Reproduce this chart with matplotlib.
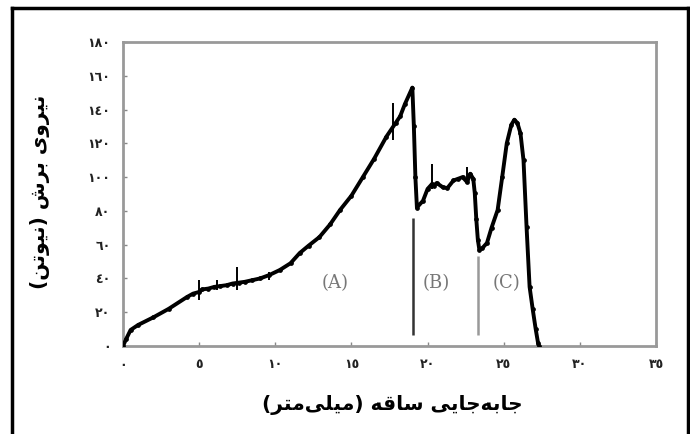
import numpy as np
import matplotlib
matplotlib.use('Agg')
import matplotlib.pyplot as plt
from matplotlib.lines import Line2D

# Force-displacement curve (mm, N)
disp = [0.0, 0.2, 0.5, 1.0, 2.0, 3.0, 4.2, 4.6, 5.0, 5.2, 5.6, 6.0, 6.4, 6.8, 7.2,
        7.6, 8.0, 8.5, 9.0, 9.6, 10.3, 11.0, 11.6, 12.2, 12.9, 13.6, 14.25, 15.0,
        15.75, 16.5, 17.3, 17.9, 18.2, 18.5, 19.0, 19.1, 19.2, 19.3, 19.7, 20.0,
        20.3, 20.4, 20.6, 21.0, 21.3, 21.7, 22.0, 22.3, 22.6, 22.8, 23.0, 23.1,
        23.2, 23.3, 23.4, 23.6, 23.9, 24.2, 24.6, 24.9, 25.2, 25.5, 25.7, 25.9,
        26.1, 26.3, 26.5, 26.7, 26.9, 27.1, 27.25, 27.3]
force = [0.0, 4.0, 9.5, 12.5, 17.0, 22.0, 29.0, 31.0, 32.0, 33.5, 34.0, 35.0, 35.5,
         36.0, 37.0, 37.5, 38.0, 39.0, 40.0, 42.0, 45.0, 49.0, 55.0, 59.5, 64.5,
         72.0, 80.5, 89.0, 100.0, 111.0, 124.0, 132.0, 136.0, 143.0, 153.0, 130.0,
         100.0, 82.0, 86.0, 93.0, 96.0, 95.0, 96.5, 94.0, 93.5, 98.0, 99.0, 100.0,
         97.0, 102.0, 99.0, 90.5, 75.0, 63.0, 57.0, 58.0, 61.0, 70.0, 80.5, 100.0,
         120.0, 131.0, 134.0, 132.0, 126.0, 110.0, 70.5, 35.0, 22.0, 10.0, 2.0, 0.0]

# small scatter spikes on the curve
spike_x = [5.0, 6.2, 7.5, 9.6, 17.7, 20.3, 22.6]
spike_lo = [27.0, 33.0, 33.0, 39.0, 122.0, 93.0, 99.0]
spike_hi = [39.0, 39.0, 47.0, 44.0, 144.0, 108.0, 106.0]

# separators between zones
sep_x = [19.04, 23.3]
sep_top = [76.0, 53.0]
sep_colors = ['#333333', '#999999']
zone_x = [13.9, 20.6, 25.2]
zone_labels = ['(A)', '(B)', '(C)']

x_ticks = [0, 5, 10, 15, 20, 25, 30, 35]
y_ticks = [0, 20, 40, 60, 80, 100, 120, 140, 160, 180]

x_title = 'جابه\u200cجایی ساقه (میلی\u200cمتر)'
y_title = 'نیروی برش (نیوتن)'

# --- minimal arabic/persian shaping for matplotlib (no bidi support) ---
FORMS = {
    'ا': ('\uFE8D', '\uFE8E'), 'ر': ('\uFEAD', '\uFEAE'), 'و': ('\uFEED', '\uFEEE'),
    'ب': ('\uFE8F', '\uFE90', '\uFE91', '\uFE92'),
    'ت': ('\uFE95', '\uFE96', '\uFE97', '\uFE98'),
    'ج': ('\uFE9D', '\uFE9E', '\uFE9F', '\uFEA0'),
    'س': ('\uFEB1', '\uFEB2', '\uFEB3', '\uFEB4'),
    'ش': ('\uFEB5', '\uFEB6', '\uFEB7', '\uFEB8'),
    'ق': ('\uFED5', '\uFED6', '\uFED7', '\uFED8'),
    'ل': ('\uFEDD', '\uFEDE', '\uFEDF', '\uFEE0'),
    'م': ('\uFEE1', '\uFEE2', '\uFEE3', '\uFEE4'),
    'ن': ('\uFEE5', '\uFEE6', '\uFEE7', '\uFEE8'),
    'ه': ('\uFEE9', '\uFEEA', '\uFEEB', '\uFEEC'),
    'ی': ('\uFBFC', '\uFBFD', '\uFBFE', '\uFBFF'),
}


def shape(text):
    out = []
    for i, ch in enumerate(text):
        if ch not in FORMS:
            if ch != '\u200c':
                out.append(ch)
            continue
        prev = text[i - 1] if i > 0 else ''
        nxt = text[i + 1] if i + 1 < len(text) else ''
        join_prev = prev in FORMS and len(FORMS[prev]) == 4
        join_next = len(FORMS[ch]) == 4 and nxt in FORMS
        f = FORMS[ch]
        if join_prev and join_next:
            out.append(f[3])
        elif join_prev:
            out.append(f[1])
        elif join_next:
            out.append(f[2])
        else:
            out.append(f[0])
    vis = ''.join(reversed(out))
    return vis.translate(str.maketrans('()', ')('))


DIGITS = str.maketrans('0123456789', '٠١٢٣٤٥٦٧٨٩')


def fa_num(v):
    return str(v).translate(DIGITS)


fig = plt.figure(figsize=(6.9, 4.34), dpi=100)
ax = fig.add_axes([123 / 690, 1 - 346 / 434, 533 / 690, 304 / 434])

ax.plot(disp, force, color='black', lw=2.8, marker='o', ms=2.4, zorder=3)
ax.vlines(spike_x, spike_lo, spike_hi, color='black', lw=1.4, zorder=3)
for sx, st, sc in zip(sep_x, sep_top, sep_colors):
    ax.vlines(sx, 6.5, st, color=sc, lw=1.8)
for zx, zl in zip(zone_x, zone_labels):
    ax.text(zx, 37, zl, ha='center', va='center', color='#777777',
            fontsize=13, family='DejaVu Serif')

ax.set_xlim(0, 35)
ax.set_ylim(0, 180)
ax.set_xticks(x_ticks)
ax.set_yticks(y_ticks)
ax.set_xticklabels([fa_num(v) for v in x_ticks], fontweight='bold', fontsize=9, color='#222222')
ax.set_yticklabels([fa_num(v) for v in y_ticks], fontweight='bold', fontsize=9, color='#222222')
ax.tick_params(direction='in', length=3, width=1, color='#888888', pad=9)
for sp in ax.spines.values():
    sp.set_color('#999999')
    sp.set_linewidth(2)

fig.text(392 / 690, 1 - 405 / 434, shape(x_title), ha='center', va='center',
         fontsize=14.5, fontweight='bold')
fig.text(40 / 690, 1 - 192 / 434, shape(y_title), ha='center', va='center',
         rotation=90, fontsize=14.5, fontweight='bold')

# outer frame (bottom edge cut off in the original)
kw = dict(color='black', lw=2.5, transform=fig.transFigure)
fig.add_artist(Line2D([12 / 690, 12 / 690], [0, 1 - 8 / 434], **kw))
fig.add_artist(Line2D([12 / 690, 688 / 690], [1 - 8 / 434, 1 - 8 / 434], **kw))
fig.add_artist(Line2D([688 / 690, 688 / 690], [0, 1 - 8 / 434], **kw))

fig.savefig('out.png', dpi=100)
